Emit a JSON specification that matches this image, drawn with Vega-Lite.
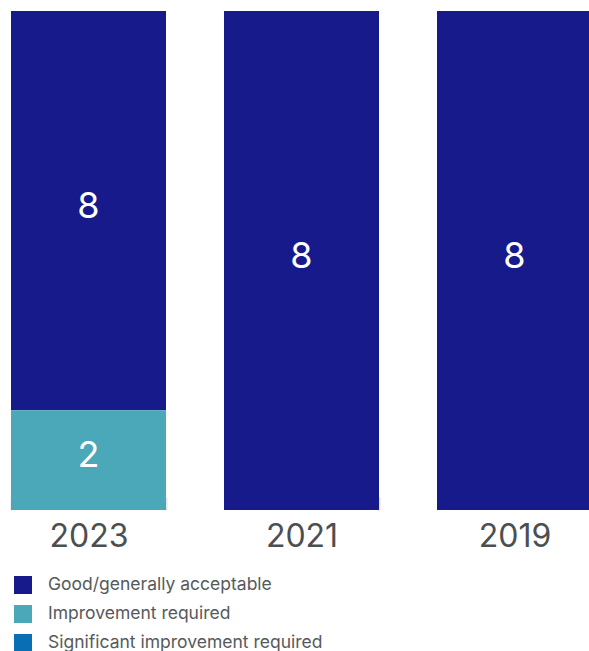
{
  "$schema": "https://vega.github.io/schema/vega-lite/v6.json",
  "width": 581,
  "height": 499,
  "autosize": {"type": "none"},
  "padding": {"left": 11, "top": 11, "right": 0, "bottom": 141},
  "background": "white",
  "config": {"view": {"stroke": null}, "font": "Inter"},
  "data": {
    "values": [
      {"year": "2023", "category": "Good/generally acceptable", "count": 8},
      {"year": "2023", "category": "Improvement required", "count": 2},
      {"year": "2021", "category": "Good/generally acceptable", "count": 8},
      {"year": "2019", "category": "Good/generally acceptable", "count": 8}
    ]
  },
  "encoding": {
    "x": {
      "field": "year",
      "type": "nominal",
      "sort": ["2023", "2021", "2019"],
      "scale": {"paddingInner": 0.2723, "paddingOuter": 0},
      "axis": {
        "title": null,
        "domain": false,
        "offset": -13,
        "ticks": true,
        "tickBand": "extent",
        "tickSize": 13,
        "tickColor": "#e4e4e4",
        "tickWidth": 2,
        "labelAngle": 0,
        "labelFontSize": 32,
        "labelColor": "#4a4f52",
        "labelPadding": 11,
        "labelFont": "Inter",
        "zindex": 0
      }
    },
    "y": {
      "field": "count",
      "type": "quantitative",
      "stack": "normalize",
      "axis": null
    },
    "order": {"field": "category", "sort": "descending"}
  },
  "layer": [
    {
      "mark": {"type": "bar"},
      "encoding": {
        "color": {
          "field": "category",
          "type": "nominal",
          "scale": {
            "domain": ["Good/generally acceptable", "Improvement required", "Significant improvement required"],
            "range": ["#171a8b", "#4ba8b8", "#0a6eb4"]
          },
          "legend": {
            "title": null,
            "orient": "none",
            "legendX": 3,
            "legendY": 565,
            "direction": "vertical",
            "padding": 0,
            "symbolType": "square",
            "symbolSize": 324,
            "symbolStrokeWidth": 0,
            "symbolOpacity": 1,
            "labelFontSize": 17.5,
            "labelColor": "#555a5c",
            "labelFont": "Inter",
            "labelOffset": 16,
            "rowPadding": 11,
            "labelLimit": 400
          }
        }
      }
    },
    {
      "mark": {"type": "text", "color": "white", "fontSize": 36, "baseline": "middle", "font": "Inter", "dy": -4},
      "encoding": {
        "y": {"field": "count", "type": "quantitative", "stack": "normalize", "bandPosition": 0.5},
        "text": {"field": "count", "type": "quantitative"}
      }
    }
  ]
}
